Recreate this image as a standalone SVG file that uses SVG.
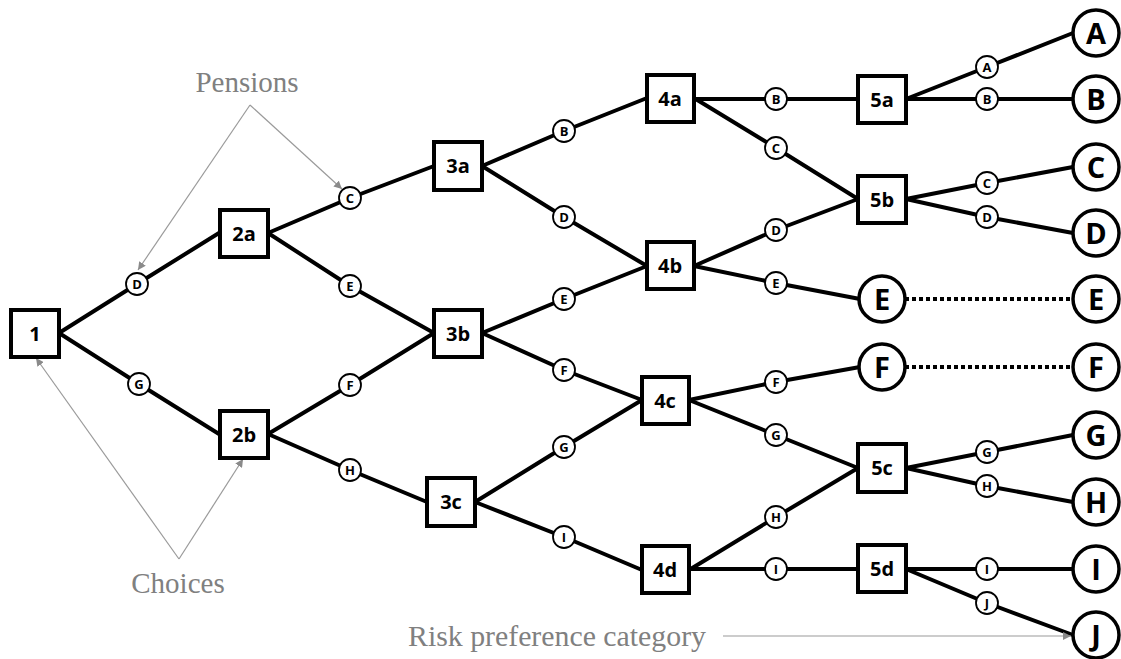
<svg xmlns="http://www.w3.org/2000/svg" width="1121" height="659" viewBox="0 0 1121 659">
<style>
.box{fill:#fff;stroke:#000;stroke-width:4}
.bl{font-family:"Open Sans","Noto Sans",sans-serif;font-weight:bold;font-size:20px;text-anchor:middle;fill:#000}
.sc{fill:#fff;stroke:#000;stroke-width:1.8}
.sl{font-family:"Open Sans","Noto Sans",sans-serif;font-weight:bold;font-size:13px;text-anchor:middle;fill:#000}
.bc{fill:#fff;stroke:#000;stroke-width:3.5}
.bcl{font-family:"Open Sans","Noto Sans",sans-serif;font-weight:bold;font-size:29px;text-anchor:middle;fill:#000}
.edge{fill:none;stroke:#000;stroke-width:4;stroke-linejoin:round}
.dot{fill:none;stroke:#000;stroke-width:4;stroke-dasharray:4 3}
.ann{fill:none;stroke:#9a9a9a;stroke-width:1.2}
.at{font-family:"Liberation Serif",serif;font-size:29px;fill:#808080}
</style>
<defs>
<marker id="ah" viewBox="0 0 10 10" refX="10" refY="5" markerWidth="8" markerHeight="8" markerUnits="userSpaceOnUse" orient="auto">
<path d="M0,0 L10,5 L0,10 z" fill="#8a8a8a"/>
</marker>
</defs>
<g id="connectors">
<path class="edge" d="M59,333 L137,284 L219,233"/>
<path class="edge" d="M59,333 L139,384 L219,434"/>
<path class="edge" d="M268,233 L350,198 L434,166"/>
<path class="edge" d="M268,233 L350,286 L434,333"/>
<path class="edge" d="M268,434 L350,385 L434,333"/>
<path class="edge" d="M268,434 L350,470 L427,502"/>
<path class="edge" d="M482,166 L564,131 L647,98"/>
<path class="edge" d="M482,166 L564,217 L647,266"/>
<path class="edge" d="M482,333 L564,299 L647,266"/>
<path class="edge" d="M482,333 L564,370 L642,400"/>
<path class="edge" d="M475,502 L564,447 L642,400"/>
<path class="edge" d="M475,502 L564,537 L642,570"/>
<path class="edge" d="M694,99 L858,99"/>
<path class="edge" d="M694,98 L776,148 L858,199"/>
<path class="edge" d="M694,266 L776,230 L858,199"/>
<path class="edge" d="M694,266 L776,283 L860,299"/>
<path class="edge" d="M689,400 L776,382 L860,367"/>
<path class="edge" d="M689,400 L776,435 L858,468"/>
<path class="edge" d="M689,570 L776,517 L858,468"/>
<path class="edge" d="M689,569 L858,569"/>
<path class="edge" d="M906,99 L987,67 L1073,33"/>
<path class="edge" d="M906,99 L1073,99"/>
<path class="edge" d="M906,199 L987,183 L1073,167"/>
<path class="edge" d="M906,199 L987,217 L1073,233"/>
<path class="edge" d="M906,468 L987,452 L1073,435"/>
<path class="edge" d="M906,468 L987,486 L1073,502"/>
<path class="edge" d="M906,569 L1073,569"/>
<path class="edge" d="M906,569 L987,603 L1073,635"/>
<path class="dot" d="M905,299 L1072,299"/>
<path class="dot" d="M905,367 L1072,367"/>
</g>
<g id="annotations">
<path class="ann" d="M250,105 L138,270" marker-end="url(#ah)"/>
<path class="ann" d="M250,105 L342,189" marker-end="url(#ah)"/>
<path class="ann" d="M179,559 L36,358" marker-end="url(#ah)"/>
<path class="ann" d="M179,559 L243,459" marker-end="url(#ah)"/>
<path class="ann" d="M723,636 L1071,636" marker-end="url(#ah)"/>
<text class="at" x="247" y="92" text-anchor="middle">Pensions</text>
<text class="at" x="178" y="593" text-anchor="middle">Choices</text>
<text class="at" x="408" y="646" textLength="298" lengthAdjust="spacingAndGlyphs">Risk preference category</text>
</g>
<g id="n1"><rect class="box" x="11" y="310" width="48" height="47"/><text class="bl" x="35" y="341">1</text></g>
<g id="n2a"><rect class="box" x="220" y="210" width="48" height="47"/><text class="bl" x="244" y="241">2a</text></g>
<g id="n2b"><rect class="box" x="220" y="411" width="48" height="47"/><text class="bl" x="244" y="442">2b</text></g>
<g id="n3a"><rect class="box" x="434" y="142" width="48" height="48"/><text class="bl" x="458" y="173">3a</text></g>
<g id="n3b"><rect class="box" x="434" y="310" width="48" height="47"/><text class="bl" x="458" y="341">3b</text></g>
<g id="n3c"><rect class="box" x="427" y="478" width="48" height="48"/><text class="bl" x="451" y="509">3c</text></g>
<g id="n4a"><rect class="box" x="647" y="75" width="47" height="47"/><text class="bl" x="670" y="106">4a</text></g>
<g id="n4b"><rect class="box" x="647" y="242" width="47" height="47"/><text class="bl" x="670" y="273">4b</text></g>
<g id="n4c"><rect class="box" x="642" y="377" width="47" height="47"/><text class="bl" x="665" y="408">4c</text></g>
<g id="n4d"><rect class="box" x="642" y="546" width="47" height="47"/><text class="bl" x="665" y="577">4d</text></g>
<g id="n5a"><rect class="box" x="858" y="76" width="48" height="47"/><text class="bl" x="882" y="107">5a</text></g>
<g id="n5b"><rect class="box" x="858" y="176" width="48" height="47"/><text class="bl" x="882" y="207">5b</text></g>
<g id="n5c"><rect class="box" x="858" y="444" width="48" height="48"/><text class="bl" x="882" y="475">5c</text></g>
<g id="n5d"><rect class="box" x="858" y="545" width="48" height="47"/><text class="bl" x="882" y="576">5d</text></g>
<g id="pD1"><circle class="sc" cx="137" cy="284" r="11"/><text class="sl" x="137" y="289">D</text></g>
<g id="pG1"><circle class="sc" cx="139" cy="384" r="11"/><text class="sl" x="139" y="389">G</text></g>
<g id="pC2"><circle class="sc" cx="350" cy="198" r="11"/><text class="sl" x="350" y="203">C</text></g>
<g id="pE2"><circle class="sc" cx="350" cy="286" r="11"/><text class="sl" x="350" y="291">E</text></g>
<g id="pF2"><circle class="sc" cx="350" cy="385" r="11"/><text class="sl" x="350" y="390">F</text></g>
<g id="pH2"><circle class="sc" cx="350" cy="470" r="11"/><text class="sl" x="350" y="475">H</text></g>
<g id="pB3"><circle class="sc" cx="564" cy="131" r="11"/><text class="sl" x="564" y="136">B</text></g>
<g id="pD3"><circle class="sc" cx="564" cy="217" r="11"/><text class="sl" x="564" y="222">D</text></g>
<g id="pE3"><circle class="sc" cx="564" cy="299" r="11"/><text class="sl" x="564" y="304">E</text></g>
<g id="pF3"><circle class="sc" cx="564" cy="370" r="11"/><text class="sl" x="564" y="375">F</text></g>
<g id="pG3"><circle class="sc" cx="564" cy="447" r="11"/><text class="sl" x="564" y="452">G</text></g>
<g id="pI3"><circle class="sc" cx="564" cy="537" r="11"/><text class="sl" x="564" y="542">I</text></g>
<g id="pB4"><circle class="sc" cx="776" cy="99" r="11"/><text class="sl" x="776" y="104">B</text></g>
<g id="pC4"><circle class="sc" cx="776" cy="148" r="11"/><text class="sl" x="776" y="153">C</text></g>
<g id="pD4"><circle class="sc" cx="776" cy="230" r="11"/><text class="sl" x="776" y="235">D</text></g>
<g id="pE4"><circle class="sc" cx="776" cy="283" r="11"/><text class="sl" x="776" y="288">E</text></g>
<g id="pF4"><circle class="sc" cx="776" cy="382" r="11"/><text class="sl" x="776" y="387">F</text></g>
<g id="pG4"><circle class="sc" cx="776" cy="435" r="11"/><text class="sl" x="776" y="440">G</text></g>
<g id="pH4"><circle class="sc" cx="776" cy="517" r="11"/><text class="sl" x="776" y="522">H</text></g>
<g id="pI4"><circle class="sc" cx="776" cy="569" r="11"/><text class="sl" x="776" y="574">I</text></g>
<g id="pA5"><circle class="sc" cx="987" cy="67" r="11"/><text class="sl" x="987" y="72">A</text></g>
<g id="pB5"><circle class="sc" cx="987" cy="99" r="11"/><text class="sl" x="987" y="104">B</text></g>
<g id="pC5"><circle class="sc" cx="987" cy="183" r="11"/><text class="sl" x="987" y="188">C</text></g>
<g id="pD5"><circle class="sc" cx="987" cy="217" r="11"/><text class="sl" x="987" y="222">D</text></g>
<g id="pG5"><circle class="sc" cx="987" cy="452" r="11"/><text class="sl" x="987" y="457">G</text></g>
<g id="pH5"><circle class="sc" cx="987" cy="486" r="11"/><text class="sl" x="987" y="491">H</text></g>
<g id="pI5"><circle class="sc" cx="987" cy="569" r="11"/><text class="sl" x="987" y="574">I</text></g>
<g id="pJ5"><circle class="sc" cx="987" cy="603" r="11"/><text class="sl" x="987" y="608">J</text></g>
<g id="oE1"><circle class="bc" cx="882" cy="299" r="23"/><text class="bcl" x="882" y="309.5">E</text></g>
<g id="oF1"><circle class="bc" cx="882" cy="367" r="23"/><text class="bcl" x="882" y="377.5">F</text></g>
<g id="oA"><circle class="bc" cx="1096" cy="33" r="23"/><text class="bcl" x="1096" y="43.5">A</text></g>
<g id="oB"><circle class="bc" cx="1096" cy="99" r="23"/><text class="bcl" x="1096" y="109.5">B</text></g>
<g id="oC"><circle class="bc" cx="1096" cy="167" r="23"/><text class="bcl" x="1096" y="177.5">C</text></g>
<g id="oD"><circle class="bc" cx="1096" cy="233" r="23"/><text class="bcl" x="1096" y="243.5">D</text></g>
<g id="oE2"><circle class="bc" cx="1096" cy="299" r="23"/><text class="bcl" x="1096" y="309.5">E</text></g>
<g id="oF2"><circle class="bc" cx="1096" cy="367" r="23"/><text class="bcl" x="1096" y="377.5">F</text></g>
<g id="oG"><circle class="bc" cx="1096" cy="435" r="23"/><text class="bcl" x="1096" y="445.5">G</text></g>
<g id="oH"><circle class="bc" cx="1096" cy="502" r="23"/><text class="bcl" x="1096" y="512.5">H</text></g>
<g id="oI"><circle class="bc" cx="1096" cy="569" r="23"/><text class="bcl" x="1096" y="579.5">I</text></g>
<g id="oJ"><circle class="bc" cx="1096" cy="635" r="23"/><text class="bcl" x="1096" y="645.5">J</text></g>
</svg>
